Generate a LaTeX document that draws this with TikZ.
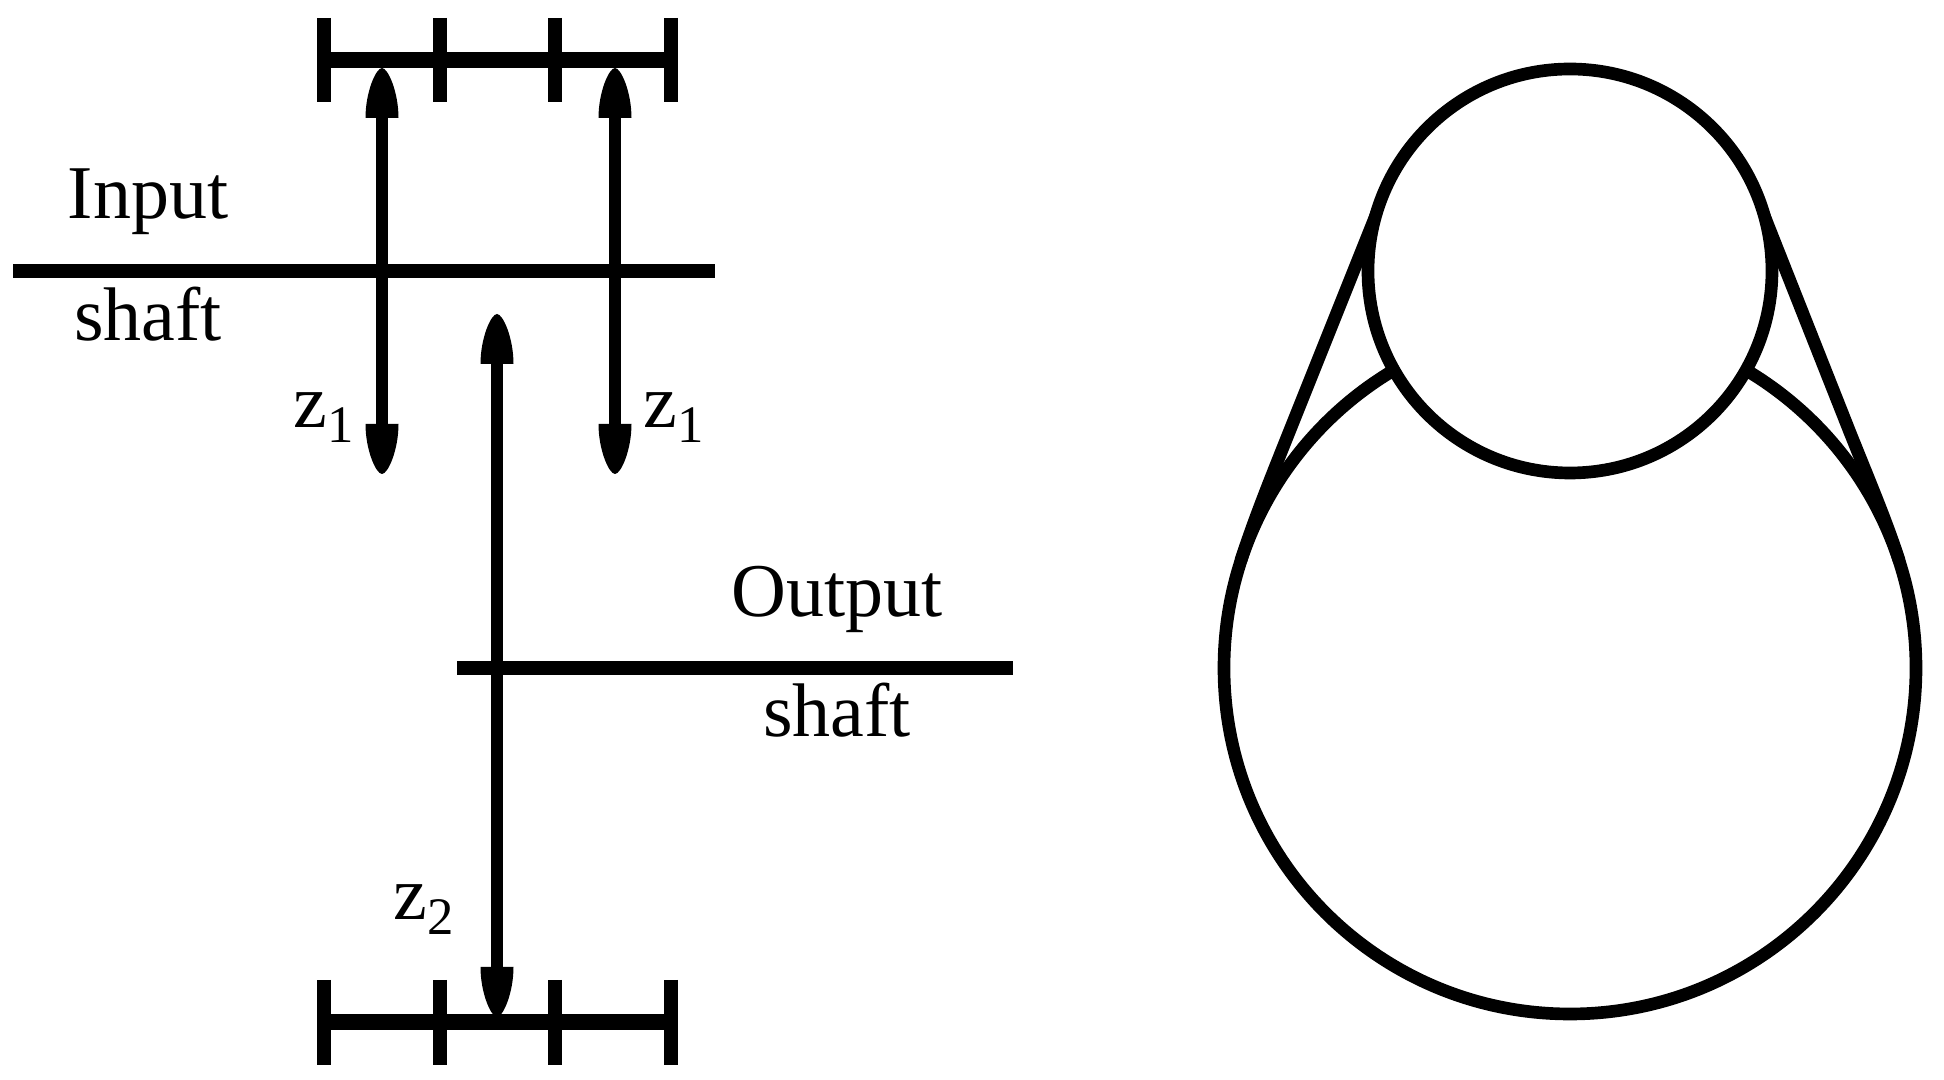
\documentclass[tikz,border=0pt]{standalone}
\usepackage{fontspec}
\setmainfont{Liberation Serif}
\newcommand{\gearsub}[1]{\raisebox{-4.2pt}{\fontsize{15}{16}\selectfont #1}}
\tikzset{
	rail/.style={line width=4.3pt},
	tick/.style={line width=3.9pt},
	shaftline/.style={line width=4.2pt},
	gear/.style={line width=3.6pt, shorten <=8pt, shorten >=8pt},
	gearhead/.pic={\fill (-16.5,50) .. controls (-16.5,24) and (-6,0) .. (0,0) .. controls (6,0) and (16.5,24) .. (16.5,50) -- cycle;},
	lbl/.style={font=\fontsize{21.6}{24}\selectfont, inner sep=0pt, anchor=base},
	pulley/.style={line width=3.6pt, fill=white},
	belt/.style={line width=3.6pt, line cap=round}
}
\begin{document}
\begin{tikzpicture}[x=0.01cm,y=-0.01cm]
	\useasboundingbox (0,0) rectangle (1944,1080);
	% top rack
	\coordinate (tl) at (324,60);
	\coordinate (tr) at (671,60);
	\draw[rail] (tl) -- (tr);
	\foreach \x in {324,440,555,671} {
		\draw[tick] (\x,18) -- (\x,102);
	}
	% input shaft and gears
	\coordinate (inL) at (13,271);
	\coordinate (inR) at (715,271);
	\draw[shaftline] (inL) -- (inR);
	\coordinate (gaT) at (382,68);
	\coordinate (gaB) at (382,474);
	\coordinate (gbT) at (615,68);
	\coordinate (gbB) at (615,474);
	\draw[gear] (gaT) -- (gaB);
	\draw[gear] (gbT) -- (gbB);
	\foreach \p in {gaT,gbT} {
		\pic at (\p) {gearhead};
	}
	\foreach \p in {gaB,gbB} {
		\pic[rotate=180] at (\p) {gearhead};
	}
	% output shaft and gear
	\coordinate (outL) at (457,668);
	\coordinate (outR) at (1013,668);
	\draw[shaftline] (outL) -- (outR);
	\coordinate (gcT) at (497,314);
	\coordinate (gcB) at (497,1017);
	\draw[gear] (gcT) -- (gcB);
	\pic at (gcT) {gearhead};
	\pic[rotate=180] at (gcB) {gearhead};
	% bottom rack
	\coordinate (bl) at (324,1022);
	\coordinate (br) at (671,1022);
	\draw[rail] (bl) -- (br);
	\foreach \x in {324,440,555,671} {
		\draw[tick] (\x,980) -- (\x,1065);
	}
	% labels
	\node[lbl] (input) at (148,219) {Input};
	\node[lbl] (shaftA) at (148,341) {shaft};
	\node[lbl] (output) at (837,617) {Output};
	\node[lbl] (shaftB) at (837,737) {shaft};
	\node[lbl] (zA) at (324,428) {z\gearsub{1}};
	\node[lbl] (zB) at (674,428) {z\gearsub{1}};
	\node[lbl] (zC) at (424,920) {z\gearsub{2}};
	% belt drive
	\coordinate (big) at (1570,668);
	\coordinate (small) at (1570,271);
	\coordinate (bla) at (1380,205);
	\coordinate (blb) at (1290,430);
	\coordinate (blc) at (1241,560);
	\coordinate (bra) at (1760,205);
	\coordinate (brb) at (1849,430);
	\coordinate (brc) at (1899,560);
	\draw[pulley] (big) circle [radius=346];
	\draw[belt] (bla) -- (blb) .. controls (1268,485) and (1254,520) .. (blc);
	\draw[belt] (bra) -- (brb) .. controls (1871,485) and (1886,520) .. (brc);
	\draw[pulley] (small) circle [radius=202];
\end{tikzpicture}
\end{document}
